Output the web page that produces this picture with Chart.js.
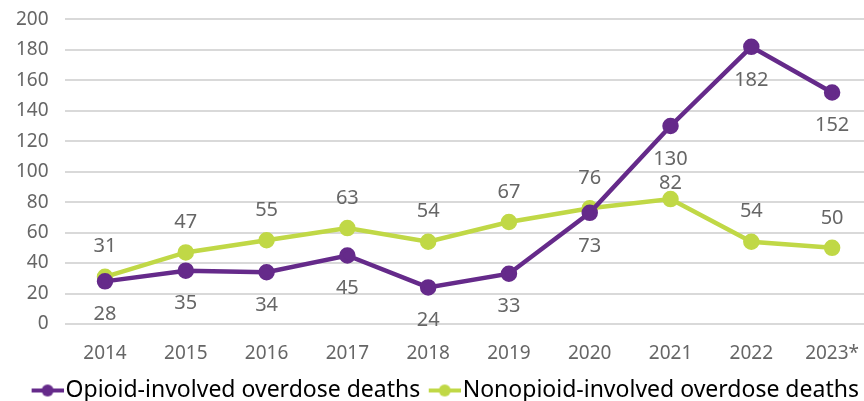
<!DOCTYPE html>
<html>
<head>
<meta charset="utf-8">
<script src="https://cdn.jsdelivr.net/npm/chart.js@4.4.0/dist/chart.umd.min.js"></script>
<style>
  html, body { margin: 0; padding: 0; background: #fff; overflow: hidden; }
  #wrap { width: 883px; height: 420px; margin-top: -8px; position: relative; }
</style>
</head>
<body>
<div id="wrap"><canvas id="myChart"></canvas></div>
<script>
const years = ["2014", "2015", "2016", "2017", "2018", "2019", "2020", "2021", "2022", "2023*"];
const opioid = [28, 35, 34, 45, 24, 33, 73, 130, 182, 152];
const nonopioid = [31, 47, 55, 63, 54, 67, 76, 82, 54, 50];
const yTicks = [0, 20, 40, 60, 80, 100, 120, 140, 160, 180, 200];

const purple = "#652a8a";
const lime = "#c0d846";
const textGray = "#666666";
const font = "'Noto Sans', sans-serif";

// legend marker: short line with a dot, with blank space on the left
// so the items get a gap between them
function legendIcon(color) {
  const c = document.createElement("canvas");
  c.width = 49;
  c.height = 14;
  const g = c.getContext("2d");
  g.strokeStyle = color;
  g.lineWidth = 4;
  g.beginPath();
  g.moveTo(17, 7);
  g.lineTo(49, 7);
  g.stroke();
  g.fillStyle = color;
  g.beginPath();
  g.arc(33, 7, 6, 0, Math.PI * 2);
  g.fill();
  return c;
}

// value labels: opioid below the point, nonopioid above
const valueLabels = {
  id: "valueLabels",
  afterDatasetsDraw(chart) {
    const ctx = chart.ctx;
    ctx.save();
    ctx.font = "20px " + font;
    ctx.fillStyle = textGray;
    ctx.textAlign = "center";
    ctx.textBaseline = "middle";
    chart.data.datasets.forEach((ds, di) => {
      const meta = chart.getDatasetMeta(di);
      meta.data.forEach((pt, i) => {
        let dy = di === 0 ? 33 : -30;
        if (di === 1 && i === 7) dy = -16;
        ctx.fillText(String(ds.data[i]), pt.x, pt.y + dy);
      });
    });
    ctx.restore();
  },
};

const ctx = document.getElementById("myChart").getContext("2d");
const myChart = new Chart(ctx, {
  type: "line",
  data: {
    labels: years,
    datasets: [
      {
        label: "Opioid-involved overdose deaths",
        data: opioid,
        borderColor: purple,
        backgroundColor: purple,
        borderWidth: 4.5,
        pointRadius: 6,
        pointHoverRadius: 6,
        tension: 0,
      },
      {
        label: "Nonopioid-involved overdose deaths",
        data: nonopioid,
        borderColor: lime,
        backgroundColor: lime,
        borderWidth: 4.5,
        pointRadius: 6,
        pointHoverRadius: 6,
        tension: 0,
      },
    ],
  },
  options: {
    responsive: true,
    maintainAspectRatio: false,
    animation: false,
    layout: { padding: 0 },
    plugins: {
      tooltip: { enabled: false },
      legend: {
        position: "bottom",
        labels: {
          usePointStyle: true,
          pointStyleWidth: 30,
          font: { family: font, size: 23, lineHeight: 1 },
          color: "#404040",
          padding: 1,
          generateLabels(chart) {
            return chart.data.datasets.map((ds, i) => ({
              text: ds.label,
              pointStyle: legendIcon(ds.borderColor),
              fillStyle: ds.borderColor,
              strokeStyle: ds.borderColor,
              lineWidth: 0,
              hidden: false,
              datasetIndex: i,
            }));
          },
        },
      },
    },
    scales: {
      x: {
        offset: true,
        afterFit(scale) {
          scale.height -= 5;
        },
        grid: { display: false, drawTicks: false },
        border: { display: false },
        ticks: { color: textGray, font: { family: font, size: 19, lineHeight: 1 }, padding: 20, maxRotation: 0 },
      },
      y: {
        min: 0,
        max: 200,
        afterBuildTicks(axis) {
          axis.ticks = yTicks.map((v) => ({ value: v }));
        },
        grid: { color: "#d9d9d9", lineWidth: 2, drawTicks: false },
        border: { display: false },
        ticks: { color: textGray, font: { family: font, size: 19 }, padding: 16 },
      },
    },
  },
  plugins: [valueLabels],
});
</script>
</body>
</html>
